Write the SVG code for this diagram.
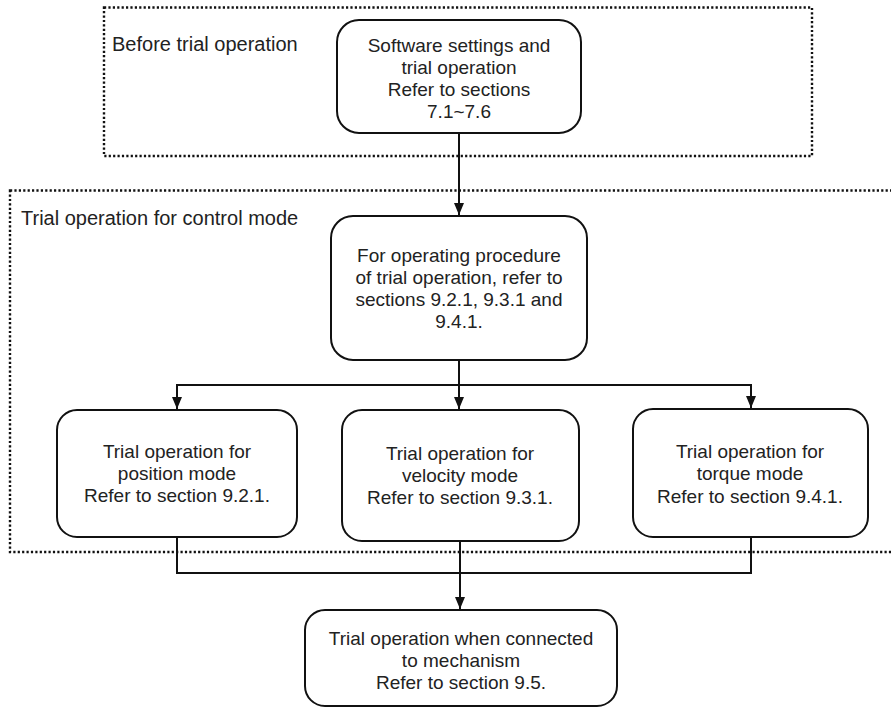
<svg xmlns="http://www.w3.org/2000/svg" width="891" height="708" viewBox="0 0 891 708">
  <defs>
    <marker id="arrow" markerWidth="12" markerHeight="10" refX="12" refY="5" orient="auto" markerUnits="userSpaceOnUse" viewBox="0 0 12 10">
      <path d="M0,0 L12,5 L0,10 Z" fill="#111"/>
    </marker>
    <style>
      .frame { fill: none; stroke: #111; stroke-width: 2.4; stroke-dasharray: 2.2 2.2; }
      .node rect { fill: #fff; stroke: #111; stroke-width: 2; }
      .node text, .label { font-family: "Liberation Sans", Arial, sans-serif; fill: #222; }
      .node text { font-size: 19px; text-anchor: middle; }
      .label { font-size: 20px; }
      .wire { fill: none; stroke: #111; stroke-width: 2; }
    </style>
  </defs>
  <rect width="891" height="708" fill="#fff"/>

  <!-- dotted group frames -->
  <g id="frames">
    <rect class="frame" x="104" y="7.5" width="708" height="148.5"/>
    <text class="label" x="112" y="51">Before trial operation</text>
    <rect class="frame" x="10" y="190.5" width="900" height="361.5"/>
    <text class="label" x="21" y="225">Trial operation for control mode</text>
  </g>

  <!-- connectors -->
  <g id="connectors">
    <path class="wire" d="M459,133 V215" marker-end="url(#arrow)"/>
    <path class="wire" d="M459,360 V409" marker-end="url(#arrow)"/>
    <path class="wire" d="M459,385 H177 V409" marker-end="url(#arrow)"/>
    <path class="wire" d="M459,385 H751 V408" marker-end="url(#arrow)"/>
    <path class="wire" d="M177,537 V573 H751 V537"/>
    <path class="wire" d="M460,541 V609" marker-end="url(#arrow)"/>
  </g>

  <g id="software-settings" class="node">
    <rect x="337" y="20" width="244" height="113" rx="22"/>
    <text x="459" y="52">Software settings and</text>
    <text x="459" y="74">trial operation</text>
    <text x="459" y="96">Refer to sections</text>
    <text x="459" y="118">7.1~7.6</text>
  </g>

  <g id="procedure" class="node">
    <rect x="331" y="216" width="256" height="144" rx="22"/>
    <text x="459" y="262">For operating procedure</text>
    <text x="459" y="284">of trial operation, refer to</text>
    <text x="459" y="306">sections 9.2.1, 9.3.1 and</text>
    <text x="459" y="328">9.4.1.</text>
  </g>

  <g id="position-mode" class="node">
    <rect x="57" y="410" width="240" height="127" rx="20"/>
    <text x="177" y="458">Trial operation for</text>
    <text x="177" y="480">position mode</text>
    <text x="177" y="502">Refer to section 9.2.1.</text>
  </g>

  <g id="velocity-mode" class="node">
    <rect x="342" y="410" width="237" height="131" rx="20"/>
    <text x="460" y="460">Trial operation for</text>
    <text x="460" y="482">velocity mode</text>
    <text x="460" y="504">Refer to section 9.3.1.</text>
  </g>

  <g id="torque-mode" class="node">
    <rect x="633" y="409" width="235" height="128" rx="20"/>
    <text x="750" y="458">Trial operation for</text>
    <text x="750" y="480">torque mode</text>
    <text x="750" y="503">Refer to section 9.4.1.</text>
  </g>

  <g id="mechanism" class="node">
    <rect x="305" y="610" width="312" height="96" rx="20"/>
    <text x="461" y="645">Trial operation when connected</text>
    <text x="461" y="667">to mechanism</text>
    <text x="461" y="689">Refer to section 9.5.</text>
  </g>
</svg>
